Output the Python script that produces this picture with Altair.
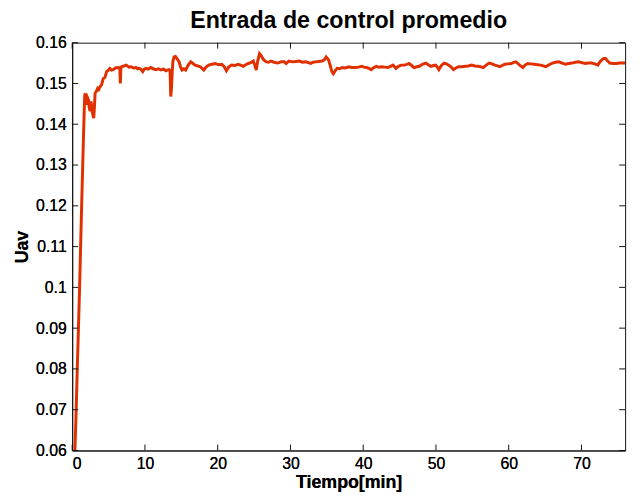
import altair as alt
import pandas as pd

# ---- data ----
t_min = [
    0.30, 0.38, 0.55, 0.70, 0.86, 1.02, 1.16, 1.30, 1.45, 1.60, 1.72, 1.79, 1.88, 2.00, 2.12, 2.24,
    2.35, 2.47, 2.60, 2.70, 2.78, 2.96, 3.05, 3.15, 3.30, 3.50, 3.65, 3.83, 4.05, 4.27, 4.50, 4.73,
    4.95, 5.18, 5.40, 5.63, 5.95, 6.30, 6.55, 6.62, 6.70, 6.85, 7.15, 7.44, 7.80, 8.10, 8.45, 8.80,
    9.00, 9.25, 9.50, 9.70, 9.90, 10.15, 10.45, 10.80, 11.15, 11.50, 11.85, 12.20, 12.55, 12.90,
    13.10, 13.30, 13.45, 13.55, 13.65, 13.75, 13.85, 14.00, 14.20, 14.45, 14.70, 14.90, 15.10,
    15.35, 15.60, 15.95, 16.30, 16.60, 16.90, 17.25, 17.60, 17.85, 18.10, 18.40, 18.75, 19.20,
    19.65, 20.10, 20.55, 20.90, 21.20, 21.50, 21.90, 22.35, 22.80, 23.15, 23.50, 23.85, 24.20,
    24.55, 24.90, 25.10, 25.30, 25.50, 25.75, 26.00, 26.20, 26.45, 26.70, 27.00, 27.30, 27.75,
    28.25, 28.70, 29.15, 29.40, 29.80, 30.30, 30.75, 31.20, 31.65, 32.10, 32.45, 32.80, 33.10,
    33.45, 33.90, 34.35, 34.65, 34.90, 35.05, 35.25, 35.45, 35.70, 35.90, 36.10, 36.40, 36.75,
    37.10, 37.55, 38.00, 38.45, 38.90, 39.35, 39.80, 40.10, 40.45, 40.80, 41.10, 41.45, 41.80,
    42.15, 42.50, 42.95, 43.40, 43.75, 44.10, 44.30, 44.50, 44.85, 45.20, 45.65, 46.00, 46.30,
    46.65, 47.00, 47.35, 47.70, 48.15, 48.60, 48.95, 49.30, 49.65, 49.95, 50.20, 50.40, 50.75,
    51.10, 51.45, 51.75, 52.10, 52.40, 52.75, 53.10, 53.55, 54.00, 54.45, 54.90, 55.35, 55.80,
    56.15, 56.50, 56.90, 57.30, 57.70, 58.10, 58.45, 58.80, 59.10, 59.45, 59.90, 60.35, 60.60,
    61.00, 61.25, 61.50, 61.95, 62.25, 62.60, 63.05, 63.50, 63.95, 64.40, 64.75, 65.10, 65.55,
    66.00, 66.45, 66.90, 67.35, 67.80, 68.25, 68.70, 69.15, 69.60, 70.05, 70.50, 70.95, 71.40,
    71.85, 72.25, 72.50, 72.80, 73.05, 73.30, 73.60, 73.90, 74.35, 74.80, 75.25, 75.70, 76.00,
]
u_av = [
    0.0585, 0.0600, 0.0700, 0.0800, 0.0900, 0.1000, 0.1100, 0.1200, 0.1300, 0.1400, 0.1470, 0.1476,
    0.1455, 0.1448, 0.1465, 0.1460, 0.1440, 0.1432, 0.1456, 0.1440, 0.1428, 0.1415, 0.1440, 0.1476,
    0.1480, 0.1488, 0.1485, 0.1492, 0.1497, 0.1512, 0.1515, 0.1529, 0.1532, 0.1537, 0.1533, 0.1534,
    0.1538, 0.1539, 0.1537, 0.1500, 0.1540, 0.1541, 0.1543, 0.1545, 0.1540, 0.1541, 0.1538, 0.1539,
    0.1536, 0.1537, 0.1534, 0.1529, 0.1535, 0.1537, 0.1535, 0.1539, 0.1536, 0.1534, 0.1536, 0.1533,
    0.1535, 0.1531, 0.1533, 0.1534, 0.1532, 0.1468, 0.1490, 0.1529, 0.1555, 0.1565, 0.1566, 0.1560,
    0.1553, 0.1540, 0.1533, 0.1536, 0.1533, 0.1545, 0.1553, 0.1549, 0.1545, 0.1543, 0.1541, 0.1537,
    0.1533, 0.1540, 0.1545, 0.1547, 0.1549, 0.1546, 0.1547, 0.1541, 0.1531, 0.1540, 0.1545, 0.1544,
    0.1547, 0.1545, 0.1542, 0.1546, 0.1549, 0.1551, 0.1555, 0.1545, 0.1533, 0.1555, 0.1573, 0.1568,
    0.1561, 0.1556, 0.1553, 0.1552, 0.1555, 0.1552, 0.1550, 0.1553, 0.1553, 0.1549, 0.1555, 0.1553,
    0.1554, 0.1555, 0.1552, 0.1553, 0.1551, 0.1549, 0.1552, 0.1553, 0.1554, 0.1555, 0.1558, 0.1565,
    0.1562, 0.1557, 0.1545, 0.1529, 0.1524, 0.1530, 0.1537, 0.1536, 0.1539, 0.1538, 0.1541, 0.1539,
    0.1539, 0.1540, 0.1542, 0.1540, 0.1539, 0.1537, 0.1534, 0.1539, 0.1542, 0.1540, 0.1541, 0.1540,
    0.1539, 0.1542, 0.1545, 0.1541, 0.1537, 0.1542, 0.1545, 0.1545, 0.1547, 0.1549, 0.1544, 0.1539,
    0.1541, 0.1542, 0.1547, 0.1550, 0.1546, 0.1542, 0.1544, 0.1545, 0.1540, 0.1534, 0.1544, 0.1550,
    0.1548, 0.1545, 0.1540, 0.1534, 0.1538, 0.1541, 0.1541, 0.1542, 0.1543, 0.1545, 0.1543, 0.1542,
    0.1541, 0.1539, 0.1545, 0.1550, 0.1548, 0.1545, 0.1543, 0.1541, 0.1544, 0.1547, 0.1548, 0.1549,
    0.1551, 0.1553, 0.1549, 0.1545, 0.1539, 0.1545, 0.1549, 0.1548, 0.1547, 0.1546, 0.1545, 0.1543,
    0.1541, 0.1546, 0.1550, 0.1552, 0.1553, 0.1550, 0.1547, 0.1549, 0.1550, 0.1552, 0.1553, 0.1551,
    0.1549, 0.1550, 0.1550, 0.1548, 0.1545, 0.1552, 0.1558, 0.1561, 0.1561, 0.1555, 0.1550, 0.1549,
    0.1549, 0.1550, 0.1550, 0.1550,
]
x_ticks = [0, 10, 20, 30, 40, 50, 60, 70]
y_ticks = [0.06, 0.07, 0.08, 0.09, 0.10, 0.11, 0.12, 0.13, 0.14, 0.15, 0.16]
x_domain = [0, 76]
y_domain = [0.06, 0.16]

W, H = 560, 413
FONT = "Liberation Sans"
LINE_COLOR = "#e03000"
AX_COLOR = "#111111"
TL = 6

df = pd.DataFrame({"t": t_min, "u": u_av})
xs = alt.Scale(domain=x_domain, nice=False, zero=False)
ys = alt.Scale(domain=y_domain, nice=False, zero=False)

common = dict(domain=True, domainColor=AX_COLOR, domainWidth=1, grid=False,
              ticks=False, tickSize=0)
x_bottom = alt.Axis(orient="bottom", title="Tiempo[min]", values=x_ticks, format="d",
                    labelPadding=5, titlePadding=3, **common)
y_left = alt.Axis(orient="left", title="Uav", values=y_ticks, format=".2~f",
                  labelPadding=6, titlePadding=4, **common)
x_top = alt.Axis(orient="top", title=None, values=x_ticks, labels=False, **common)
y_right = alt.Axis(orient="right", title=None, values=y_ticks, labels=False, **common)

line = alt.Chart(df).mark_line(color=LINE_COLOR, strokeWidth=3, clip=True).encode(
    x=alt.X("t:Q", scale=xs, axis=x_bottom),
    y=alt.Y("u:Q", scale=ys, axis=y_left),
)
frame = alt.Chart(df).mark_line(opacity=0).encode(
    x=alt.X("t:Q", scale=xs, axis=x_top),
    y=alt.Y("u:Q", scale=ys, axis=y_right),
)

# inward ticks on all four sides, from the tick-label values
tick_df = pd.DataFrame(
    {"t": x_ticks * 2 + [None] * (2 * len(y_ticks)),
     "u": [None] * (2 * len(x_ticks)) + y_ticks * 2,
     "side": ["b"] * len(x_ticks) + ["t"] * len(x_ticks)
             + ["l"] * len(y_ticks) + ["r"] * len(y_ticks)})

tick_x = alt.Chart(tick_df).transform_filter(
    "datum.side == 'b' || datum.side == 't'"
).transform_calculate(
    y0=f"datum.side == 'b' ? {H} : 0", y1=f"datum.side == 'b' ? {H - TL} : {TL}"
).mark_rule(color=AX_COLOR, strokeWidth=1).encode(
    x=alt.X("t:Q", scale=xs, axis=x_bottom),
    y=alt.Y("y0:Q", scale=None), y2="y1:Q")
tick_y = alt.Chart(tick_df).transform_filter(
    "datum.side == 'l' || datum.side == 'r'"
).transform_calculate(
    x0=f"datum.side == 'l' ? 0 : {W}", x1=f"datum.side == 'l' ? {TL} : {W - TL}"
).mark_rule(color=AX_COLOR, strokeWidth=1).encode(
    y=alt.Y("u:Q", scale=ys, axis=y_left),
    x=alt.X("x0:Q", scale=None), x2="x1:Q")

chart = alt.layer(line, frame, tick_x, tick_y).properties(
    width=W, height=H,
    background="white",
    title=alt.TitleParams("Entrada de control promedio", font=FONT, fontSize=23.5,
                          fontWeight="bold", color="black", anchor="middle", offset=2),
    autosize=alt.AutoSizeParams(type="none"),
    padding={"left": 65, "top": 32, "right": 10, "bottom": 45},
).configure_view(strokeWidth=0).configure_axis(
    labelFont=FONT, labelFontSize=16, labelColor="black",
    titleFont=FONT, titleFontSize=18, titleFontWeight="bold", titleColor="black",
)

chart.save("out.html", embed_options={"renderer": "svg", "actions": False})
